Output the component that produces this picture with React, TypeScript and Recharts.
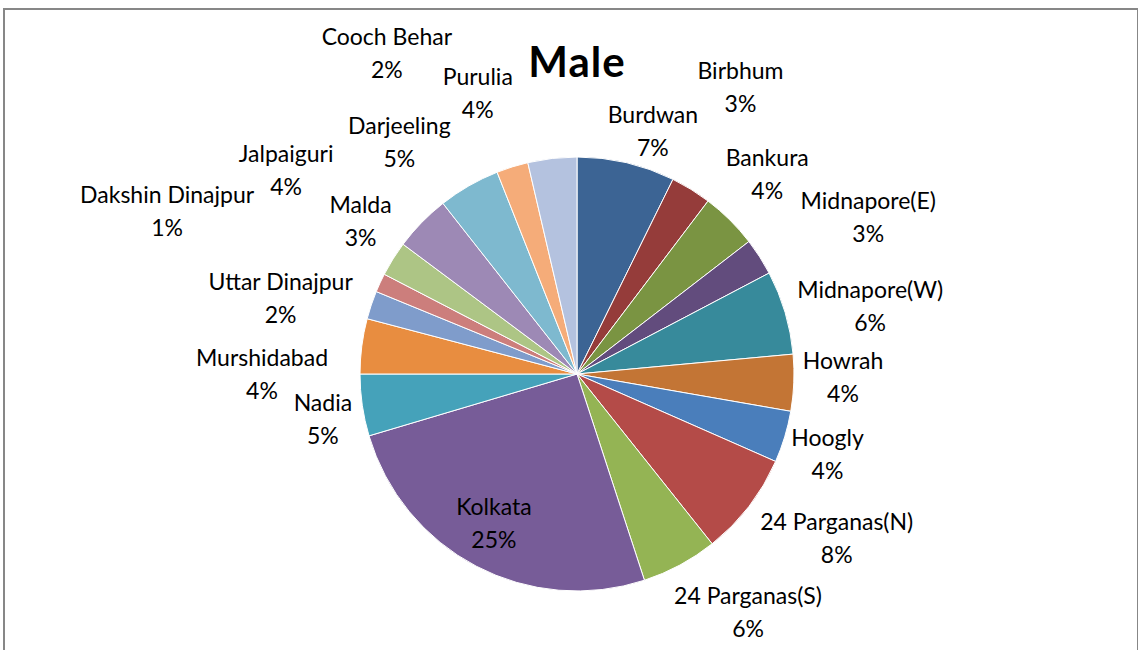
import { PieChart, Pie, Cell } from 'recharts'

const districts = [
  'Burdwan', 'Birbhum', 'Bankura', 'Midnapore(E)', 'Midnapore(W)', 'Howrah', 'Hoogly',
  '24 Parganas(N)', '24 Parganas(S)', 'Kolkata', 'Nadia', 'Murshidabad', 'Uttar Dinajpur',
  'Dakshin Dinajpur', 'Malda', 'Jalpaiguri', 'Darjeeling', 'Cooch Behar', 'Purulia'
]

const maleShare = [
  7.29, 3.03, 4.23, 2.75, 6.24, 4.21, 3.85, 7.7, 5.67, 25.43,
  4.6, 4.1, 2.1, 1.4, 2.6, 4.2, 4.6, 2.36, 3.64
]

const COLORS = [
  '#3C6494', '#953C3A', '#7A9442', '#624C7D', '#378A9B', '#C37535', '#4A7EBB',
  '#B44B48', '#94B454', '#775C98', '#45A2BA', '#E88D40', '#7F9CCB',
  '#CC7E7C', '#ADC585', '#9D89B5', '#7EB9CF', '#F5AC79', '#B4C2DF'
]

// Excel "best fit" label placement: angle nudge (deg, clockwise) and distance from centre
const labelShift = [4.2, -2, -1.2, 4.3, 3.4, -1.7, 0.9, -5.4, -7.4, 1.4, -1.7, -7.4, -4.1, -3.2, 3.2, -9.3, -7.6, -13.3, -12.9]
const labelDist = [255, 330, 276, 331, 301, 266, 263, 307, 293, 171, 258, 315, 306, 441, 265, 355, 292, 373, 298]

const data = districts.map((name, i) => ({ name, value: maleShare[i] }))

const FONT = 'Lato, sans-serif'

const renderLabel = (props: any) => {
  const { cx, cy, midAngle, index, value, name } = props
  const t = 90 - midAngle + labelShift[index]
  const rad = (t * Math.PI) / 180
  const d = labelDist[index]
  const x = cx + d * Math.sin(rad)
  const y = cy - d * Math.cos(rad)
  return (
    <text x={x} y={y} textAnchor="middle" fontFamily={FONT} fontSize={23} fill="#000">
      <tspan x={x} y={y - 8}>{name}</tspan>
      <tspan x={x} y={y + 25}>{`${Math.round(value)}%`}</tspan>
    </text>
  )
}

export default function App() {
  return (
    <div style={{ position: 'absolute', left: 0, top: 0 }}>
      <svg width={1138} height={650} style={{ position: 'absolute', left: 0, top: 0 }}>
        <rect x={4} y={9} width={1134} height={700} fill="#fff" stroke="#878787" strokeWidth={2} />
      </svg>
      <div style={{ position: 'absolute', left: 0, top: 0 }}>
        <PieChart width={1138} height={650} margin={{ top: 0, right: 0, bottom: 0, left: 0 }}>
          <text x={577} y={77} textAnchor="middle" fontFamily={FONT} fontWeight={700} fontSize={42} letterSpacing={1} fill="#000">
            Male
          </text>
          <Pie
            data={data}
            dataKey="value"
            nameKey="name"
            cx={577}
            cy={374}
            outerRadius={217}
            startAngle={90}
            endAngle={-270}
            stroke="#fff"
            strokeWidth={1}
            label={renderLabel}
            labelLine={false}
            isAnimationActive={false}
          >
            {data.map((entry, index) => (
              <Cell key={`cell-${index}`} fill={COLORS[index % COLORS.length]} />
            ))}
          </Pie>
        </PieChart>
      </div>
    </div>
  )
}
